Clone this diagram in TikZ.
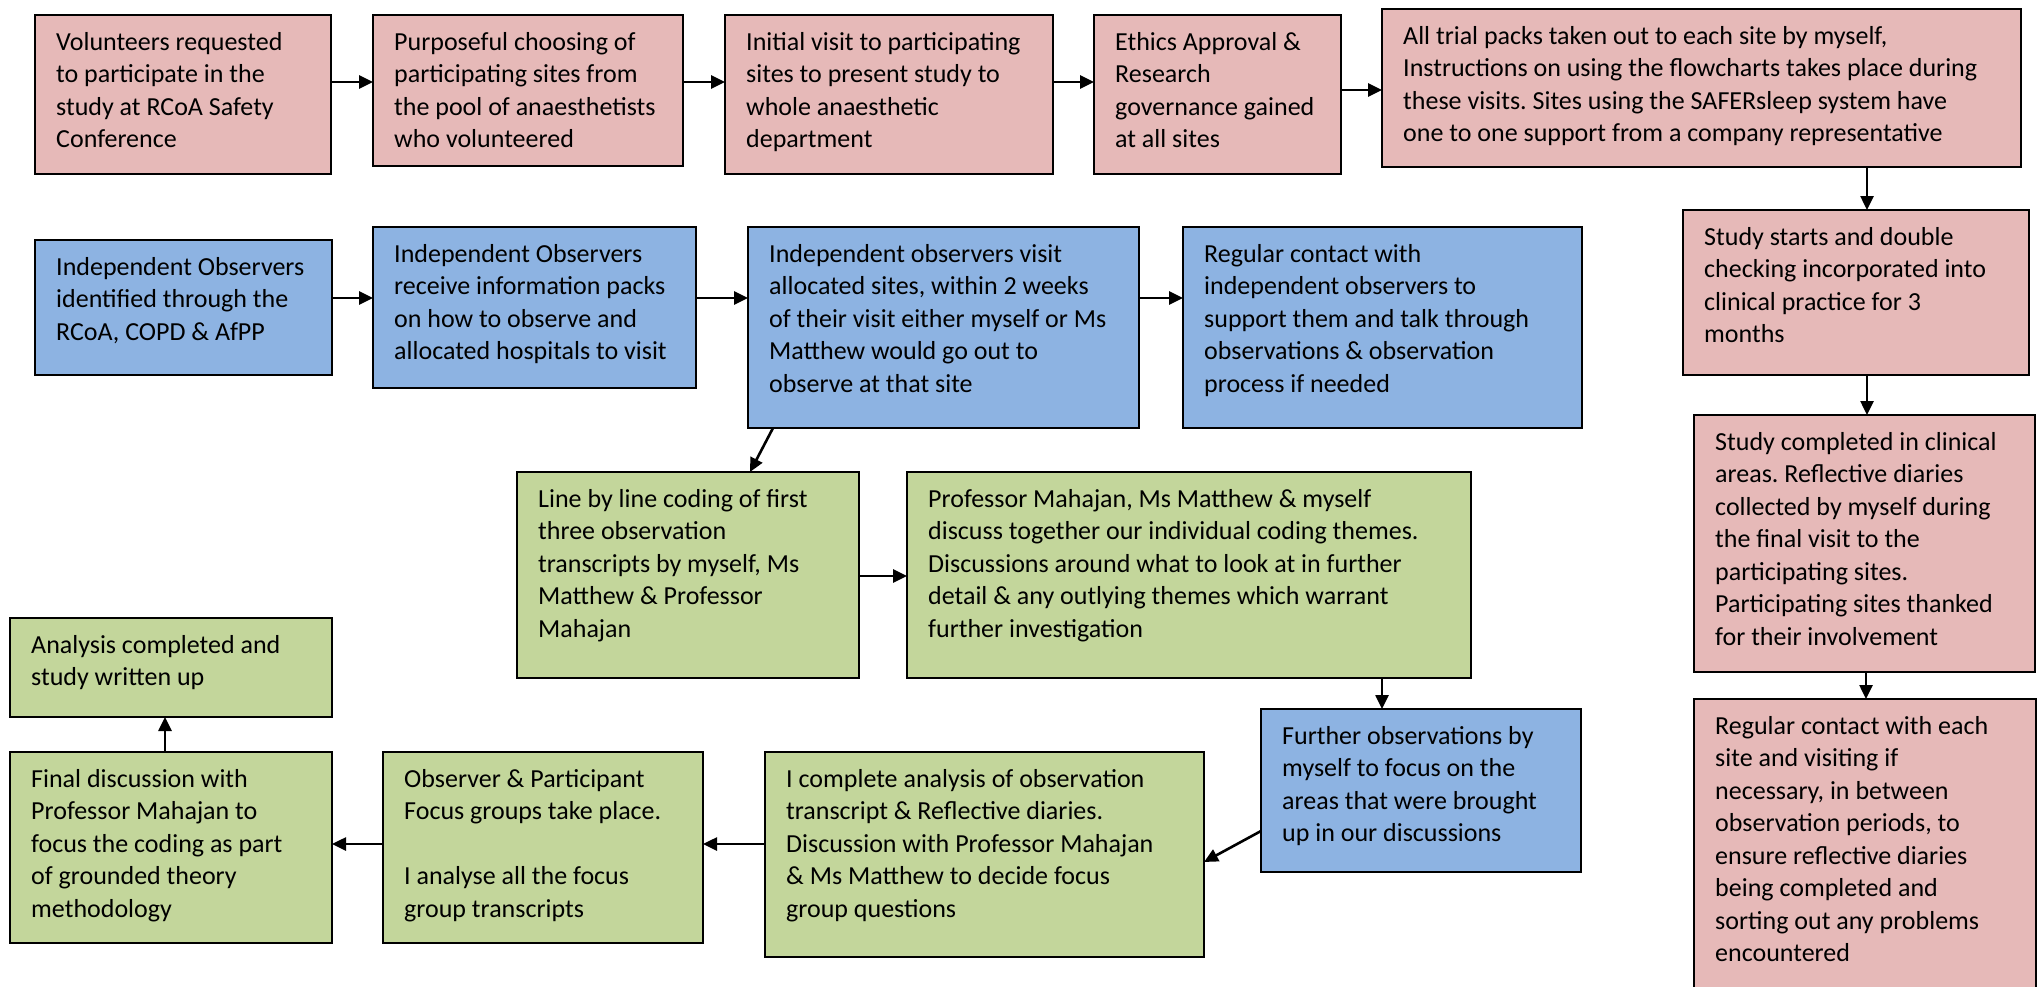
\documentclass[tikz,border=0pt]{standalone}
\usepackage{fontspec}
\setmainfont{Carlito}
\usetikzlibrary{arrows.meta}
\definecolor{pinkf}{HTML}{E6B9B8}
\definecolor{bluef}{HTML}{8DB3E2}
\definecolor{greenf}{HTML}{C3D69B}
\newcommand\flowbox[7]{%
  \pgfmathsetmacro\fbw{#5-#3}%
  \pgfmathsetmacro\fbh{#6-#4}%
  \node[boxbase,#2,minimum width=\fbw pt,minimum height=\fbh pt,anchor=north west] (#1) at (#3,#4) {};
  \node[txt] (#1-t) at ([xshift=21pt,yshift=-17pt]#1.north west) {#7};
}
\frenchspacing
\begin{document}
\begin{tikzpicture}[x=1pt,y=-1pt,
  boxbase/.style={draw=black,line width=2pt,inner sep=0pt,outer sep=0pt},
  pinkbox/.style={fill=pinkf},
  bluebox/.style={fill=bluef},
  greenbox/.style={fill=greenf},
  txt/.style={anchor=north west,inner sep=0pt,align=left,font=\fontsize{26}{32.5}\selectfont\frenchspacing},
  arr/.style={line width=2.6pt,-{Triangle[length=14pt,width=13pt]}}]
\useasboundingbox[fill=white] (0,0) rectangle (2038,986);
% top row (pink)
\flowbox{p1}{pinkbox}{35}{15}{331}{174}{Volunteers requested\\to participate in the\\study at RCoA Safety\\Conference}
\flowbox{p2}{pinkbox}{373}{15}{683}{166}{Purposeful choosing of\\participating sites from\\the pool of anaesthetists\\who volunteered}
\flowbox{p3}{pinkbox}{725}{15}{1053}{174}{Initial visit to participating\\sites to present study to\\whole anaesthetic\\department}
\flowbox{p4}{pinkbox}{1094}{15}{1341}{174}{Ethics Approval \&\\Research\\governance gained\\at all sites}
\flowbox{p5}{pinkbox}{1382}{9}{2021}{167}{All trial packs taken out to each site by myself,\\Instructions on using the flowcharts takes place during\\these visits. Sites using the SAFERsleep system have\\one to one support from a company representative}
\flowbox{p6}{pinkbox}{1683}{210}{2029}{375}{Study starts and double\\checking incorporated into\\clinical practice for 3\\months}
\flowbox{p7}{pinkbox}{1694}{415}{2035}{672}{Study completed in clinical\\areas. Reflective diaries\\collected by myself during\\the final visit to the\\participating sites.\\Participating sites thanked\\for their involvement}
\flowbox{p8}{pinkbox}{1694}{699}{2036}{995}{Regular contact with each\\site and visiting if\\necessary, in between\\observation periods, to\\ensure reflective diaries\\being completed and\\sorting out any problems\\encountered}
% blue row
\flowbox{b1}{bluebox}{35}{240}{332}{375}{Independent Observers\\identified through the\\RCoA, COPD \& AfPP}
\flowbox{b2}{bluebox}{373}{227}{696}{388}{Independent Observers\\receive information packs\\on how to observe and\\allocated hospitals to visit}
\flowbox{b3}{bluebox}{748}{227}{1139}{428}{Independent observers visit\\allocated sites, within 2 weeks\\of their visit either myself or Ms\\Matthew would go out to\\observe at that site}
\flowbox{b4}{bluebox}{1183}{227}{1582}{428}{Regular contact with\\independent observers to\\support them and talk through\\observations \& observation\\process if needed}
\flowbox{b5}{bluebox}{1261}{709}{1581}{872}{Further observations by\\myself to focus on the\\areas that were brought\\up in our discussions}
% green boxes
\flowbox{g1}{greenbox}{517}{472}{859}{678}{Line by line coding of first\\three observation\\transcripts by myself, Ms\\Matthew \& Professor\\Mahajan}
\flowbox{g2}{greenbox}{907}{472}{1471}{678}{Professor Mahajan, Ms Matthew \& myself\\discuss together our individual coding themes.\\Discussions around what to look at in further\\detail \& any outlying themes which warrant\\further investigation}
\flowbox{g3}{greenbox}{765}{752}{1204}{957}{I complete analysis of observation\\transcript \& Reflective diaries.\\Discussion with Professor Mahajan\\\& Ms Matthew to decide focus\\group questions}
\flowbox{g4}{greenbox}{383}{752}{703}{943}{Observer \& Participant\\Focus groups take place.\\\mbox{}\\I analyse all the focus\\group transcripts}
\flowbox{g5}{greenbox}{10}{752}{332}{943}{Final discussion with\\Professor Mahajan to\\focus the coding as part\\of grounded theory\\methodology}
\flowbox{g6}{greenbox}{10}{618}{332}{717}{Analysis completed and\\study written up}
% connectors
\draw[arr] (p1.east |- 0,82) -- (p2.west |- 0,82);
\draw[arr] (p2.east |- 0,82) -- (p3.west |- 0,82);
\draw[arr] (p3.east |- 0,82) -- (p4.west |- 0,82);
\draw[arr] (p4.east |- 0,90) -- (p5.west |- 0,90);
\draw[arr] (p5.south -| 1867,0) -- (p6.north -| 1867,0);
\draw[arr] (p6.south -| 1867,0) -- (p7.north -| 1867,0);
\draw[arr] (p7.south -| 1866,0) -- (p8.north -| 1866,0);
\draw[arr] (b1.east |- 0,298) -- (b2.west |- 0,298);
\draw[arr] (b2.east |- 0,298) -- (b3.west |- 0,298);
\draw[arr] (b3.east |- 0,298) -- (b4.west |- 0,298);
\draw[arr] ([xshift=25pt]b3.south west) -- ([xshift=233pt]g1.north west);
\draw[arr] (g1.east |- 0,576) -- (g2.west |- 0,576);
\draw[arr] (g2.south -| 1382,0) -- (b5.north -| 1382,0);
\draw[arr] (b5.west |- 0,831) -- (g3.east |- 0,862);
\draw[arr] (g3.west |- 0,844) -- (g4.east |- 0,844);
\draw[arr] (g4.west |- 0,844) -- (g5.east |- 0,844);
\draw[arr] (g5.north -| 165,0) -- (g6.south -| 165,0);
\end{tikzpicture}
\end{document}
